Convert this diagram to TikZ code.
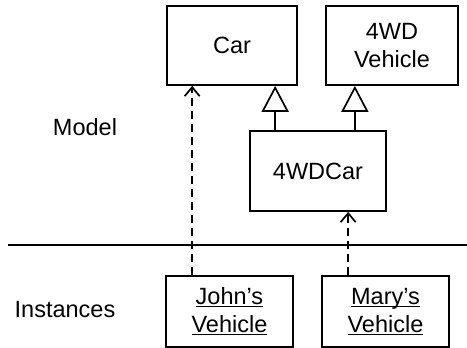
\documentclass[tikz,border=0pt]{standalone}
\usepackage{fontspec}
\setmainfont{Liberation Sans}
\usetikzlibrary{arrows.meta}
\newcommand{\uline}[1]{\underline{\smash{#1}\vphantom{Jh}}}

\begin{document}
\begin{tikzpicture}[x=1pt,y=-1pt,line width=1.7pt,
  cls/.style={draw,align=center,inner sep=0pt,font=\fontsize{23.5}{28}\selectfont},
  lbl/.style={font=\fontsize{23.5}{28}\selectfont},
  dep/.style={dash pattern=on 8pt off 5pt,-{Straight Barb[length=9pt,width=15pt]}},
  gen/.style={-{Triangle[open,length=26pt,width=27pt]}}]
\useasboundingbox (0,0) rectangle (467,348);
  \node[cls,minimum width=130pt,minimum height=79pt] (car) at (232,45.5) {Car};
  \node[cls,minimum width=132pt,minimum height=79pt] (fwdveh) at (392,45.5) {4WD\\Vehicle};
  \node[cls,minimum width=136pt,minimum height=80pt] (fwdcar) at (318,171) {4WDCar};
  \node[cls,minimum width=127pt,minimum height=71pt] (john) at (229.5,311.5) {\uline{John’s}\\\uline{Vehicle}};
  \node[cls,minimum width=127pt,minimum height=71pt] (mary) at (385.5,311.5) {\uline{Mary’s}\\\uline{Vehicle}};
  \node[lbl] (model) at (85,127) {Model};
  \node[lbl] (inst) at (65,310) {Instances};
  % generalisation
  \draw[gen] ([xshift=26pt]fwdcar.north west) -- ([xshift=26pt]fwdcar.north west |- car.south);
  \draw[gen] ([xshift=-32pt]fwdcar.north east) -- ([xshift=-32pt]fwdcar.north east |- fwdveh.south);
  % instance of
  \draw[dep] ([xshift=27pt]john.north west) -- ([xshift=27pt]john.north west |- car.south);
  \draw[dep] ([xshift=27pt]mary.north west) -- ([xshift=27pt]mary.north west |- fwdcar.south);
  \draw (8,245) -- (467,245);
\end{tikzpicture}
\end{document}
